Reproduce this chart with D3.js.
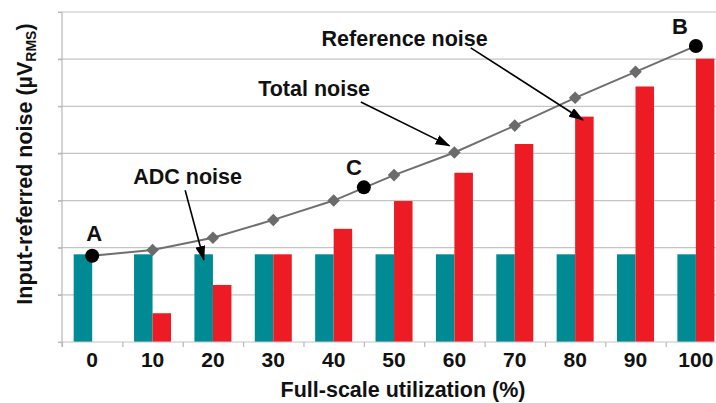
<!DOCTYPE html>
<html lang="en">
<head>
<meta charset="UTF-8">
<title>Input-referred noise</title>
<script src="https://d3js.org/d3.v7.min.js"></script>
<style>
  body { margin: 0; background: #fff; }
  text { font-family: "Liberation Sans", Arial, sans-serif; font-weight: bold; fill: #111; }
</style>
</head>
<body>
<script>

// data (units = one gridline step)
var utilization = [0, 10, 20, 30, 40, 50, 60, 70, 80, 90, 100];
var adcNoise    = [1.86, 1.86, 1.86, 1.86, 1.86, 1.86, 1.86, 1.86, 1.86, 1.86, 1.86];
var refNoise    = [0, 0.61, 1.21, 1.86, 2.40, 2.99, 3.59, 4.20, 4.78, 5.42, 6.01];
var totalNoise  = [1.83, 1.95, 2.21, 2.59, 3.00, 3.54, 4.02, 4.59, 5.18, 5.73, 6.28];
var markedPoints = [
    { name: 'A', u: 0,   v: 1.83, dx: 2,   dy: -15 },
    { name: 'C', u: 45,  v: 3.28, dx: -10, dy: -12 },
    { name: 'B', u: 100, v: 6.28, dx: -16, dy: -12 }
];
var callouts = [
    { text: 'ADC noise',       tx: 6.8,  ty: 3.35, from: [15.4, 3.22], to: [18.5, 1.74] },
    { text: 'Total noise',     tx: 27.5, ty: 5.21, from: [44.5, 5.09], to: [59.2, 4.16] },
    { text: 'Reference noise', tx: 38.0, ty: 6.27, from: [62.7, 6.24], to: [81.3, 4.71] }
];

var W = 716, H = 403;
var mLeft = 62, mTop = 12, mBottom = 342;

var svg = d3.select('body').append('svg')
    .attr('width', W)
    .attr('height', H);

var defs = svg.append('defs');
defs.append('marker')
    .attr('id', 'arrow')
    .attr('markerUnits', 'userSpaceOnUse')
    .attr('markerWidth', 15).attr('markerHeight', 10)
    .attr('refX', 14).attr('refY', 5)
    .attr('orient', 'auto')
    .append('path')
    .attr('d', 'M0,0 L15,5 L0,10 Z')
    .attr('fill', '#000');

// scales
var xBand = d3.scaleBand()
    .domain(utilization)
    .range([mLeft, mLeft + 11 * 60.37])
    .paddingInner(0.387)
    .paddingOuter(0.1935);

var xSub = d3.scaleBand()
    .domain(['adc', 'ref'])
    .range([0, xBand.bandwidth()]);

var xLin = d3.scaleLinear()
    .domain([0, 100])
    .range([xBand(0) + xBand.bandwidth() / 2, xBand(100) + xBand.bandwidth() / 2]);

var y = d3.scaleLinear()
    .domain([0, 7])
    .range([mBottom, mTop]);

// gridlines
svg.append('g')
    .selectAll('line')
    .data(d3.range(1, 8))
    .enter().append('line')
    .attr('x1', mLeft - 4).attr('x2', W)
    .attr('y1', function (d) { return y(d); })
    .attr('y2', function (d) { return y(d); })
    .attr('stroke', '#c4c4c4')
    .attr('stroke-width', 1.2);

// y axis (ticks only, no labels)
var yAxis = svg.append('g')
    .attr('transform', 'translate(' + mLeft + ',0)')
    .call(d3.axisLeft(y).ticks(7).tickSize(4).tickFormat(''));
yAxis.select('.domain').attr('stroke', '#b8b8b8').attr('stroke-width', 1.2)
    .attr('d', 'M0,' + mTop + 'V' + (mBottom + 5));
yAxis.selectAll('.tick line').attr('stroke', '#b8b8b8').attr('stroke-width', 1.2);

// bars
var groups = svg.append('g')
    .selectAll('g')
    .data(utilization)
    .enter().append('g')
    .attr('transform', function (d) { return 'translate(' + xBand(d) + ',0)'; });

groups.append('rect')
    .attr('x', xSub('adc'))
    .attr('width', xSub.bandwidth())
    .attr('y', function (d, i) { return y(adcNoise[i]); })
    .attr('height', function (d, i) { return y(0) - y(adcNoise[i]); })
    .attr('fill', '#008a93');

groups.append('rect')
    .attr('x', xSub('ref'))
    .attr('width', xSub.bandwidth())
    .attr('y', function (d, i) { return y(refNoise[i]); })
    .attr('height', function (d, i) { return y(0) - y(refNoise[i]); })
    .attr('fill', '#ed1c24');

// baseline + x ticks between categories
svg.append('line')
    .attr('x1', mLeft - 4).attr('x2', W)
    .attr('y1', mBottom).attr('y2', mBottom)
    .attr('stroke', '#c4c4c4').attr('stroke-width', 1.2);

var xTicks = svg.append('g')
    .attr('transform', 'translate(0,' + mBottom + ')')
    .call(d3.axisBottom(xLin).tickValues(d3.range(-5, 100, 10)).tickSize(5).tickFormat(''));
xTicks.select('.domain').remove();
xTicks.selectAll('.tick line').attr('stroke', '#b8b8b8').attr('stroke-width', 1.2);

var xLabels = svg.append('g')
    .attr('transform', 'translate(0,' + mBottom + ')')
    .call(d3.axisBottom(xBand).tickSize(0).tickPadding(8));
xLabels.select('.domain').remove();
xLabels.selectAll('text')
    .attr('dy', null)
    .attr('y', 25)
    .style('font-family', '"Liberation Sans", Arial, sans-serif')
    .style('font-weight', 'bold')
    .style('font-size', '21px')
    .attr('fill', '#111');

// total noise line
var line = d3.line()
    .x(function (d, i) { return xLin(utilization[i]); })
    .y(function (d) { return y(d); });

svg.append('path')
    .datum(totalNoise)
    .attr('d', line)
    .attr('fill', 'none')
    .attr('stroke', '#6f6f6f')
    .attr('stroke-width', 2);

svg.append('g')
    .selectAll('path')
    .data(totalNoise.slice(1, -1))
    .enter().append('path')
    .attr('d', d3.symbol().type(d3.symbolDiamond2).size(100))
    .attr('transform', function (d, i) {
        return 'translate(' + xLin(utilization[i + 1]) + ',' + y(d) + ')';
    })
    .attr('fill', '#6b6b6b');

// A, B, C markers
var marks = svg.append('g')
    .selectAll('g')
    .data(markedPoints)
    .enter().append('g')
    .attr('transform', function (d) { return 'translate(' + xLin(d.u) + ',' + y(d.v) + ')'; });

marks.append('circle')
    .attr('r', 7)
    .attr('fill', '#000');

marks.append('text')
    .attr('x', function (d) { return d.dx; })
    .attr('y', function (d) { return d.dy; })
    .attr('text-anchor', 'middle')
    .style('font-size', '22px')
    .text(function (d) { return d.name; });

// callouts
var co = svg.append('g')
    .selectAll('g')
    .data(callouts)
    .enter().append('g');

co.append('text')
    .attr('x', function (d) { return xLin(d.tx); })
    .attr('y', function (d) { return y(d.ty); })
    .style('font-size', '21.5px')
    .text(function (d) { return d.text; });

co.append('line')
    .attr('x1', function (d) { return xLin(d.from[0]); })
    .attr('y1', function (d) { return y(d.from[1]); })
    .attr('x2', function (d) { return xLin(d.to[0]); })
    .attr('y2', function (d) { return y(d.to[1]); })
    .attr('stroke', '#000')
    .attr('stroke-width', 1.6)
    .attr('marker-end', 'url(#arrow)');

// axis titles
svg.append('text')
    .attr('x', 403)
    .attr('y', 397)
    .attr('text-anchor', 'middle')
    .style('font-size', '21.5px')
    .text('Full-scale utilization (%)');

var yTitle = svg.append('text')
    .attr('transform', 'translate(32,164) rotate(-90)')
    .attr('text-anchor', 'middle')
    .style('font-size', '21.5px');
yTitle.append('tspan').text('Input-referred noise (\u00b5V');
yTitle.append('tspan').attr('dy', 4).style('font-size', '14px').text('RMS');
yTitle.append('tspan').attr('dy', -4).text(')');

</script>
</body>
</html>
